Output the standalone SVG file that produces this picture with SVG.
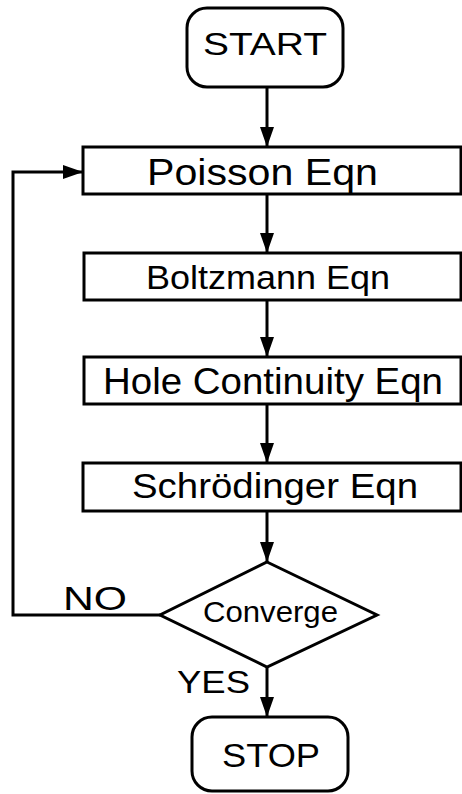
<svg xmlns="http://www.w3.org/2000/svg" width="462" height="794" viewBox="0 0 462 794">
<style>
.box{fill:#fff;stroke:#000;stroke-width:3}
.ln{fill:none;stroke:#000;stroke-width:3}
text{font-family:"Liberation Sans",Arial,sans-serif;fill:#000}
</style>
<defs>
<marker id="ah" markerUnits="userSpaceOnUse" markerWidth="20" markerHeight="14" refX="20" refY="7" orient="auto" viewBox="0 0 20 14">
<path d="M0,0 L20,7 L0,14 z" fill="#000"/>
</marker>
</defs>
<rect width="462" height="794" fill="#fff"/>
<g id="connectors">
<line class="ln" x1="267" y1="87" x2="267" y2="147" marker-end="url(#ah)"/>
<line class="ln" x1="267" y1="194" x2="267" y2="253" marker-end="url(#ah)"/>
<line class="ln" x1="267" y1="300" x2="267" y2="357" marker-end="url(#ah)"/>
<line class="ln" x1="267" y1="404" x2="267" y2="463" marker-end="url(#ah)"/>
<line class="ln" x1="267" y1="511" x2="267" y2="562" marker-end="url(#ah)"/>
<line class="ln" x1="267" y1="667" x2="267" y2="717" marker-end="url(#ah)"/>
<polyline class="ln" points="160,615 13,615 13,172 83,172" stroke-linejoin="miter" marker-end="url(#ah)"/>
<text x="63" y="610" font-size="33" textLength="64" lengthAdjust="spacingAndGlyphs">NO</text>
<text x="177" y="693" font-size="32" textLength="73" lengthAdjust="spacingAndGlyphs">YES</text>
</g>
<g id="start">
<rect class="box" x="187" y="8" width="156" height="79" rx="20"/>
<text x="203" y="55" font-size="32" textLength="124" lengthAdjust="spacingAndGlyphs">START</text>
</g>
<g id="poisson">
<rect class="box" x="83" y="147" width="378" height="47"/>
<text x="147" y="185" font-size="36" textLength="231" lengthAdjust="spacingAndGlyphs">Poisson Eqn</text>
</g>
<g id="boltzmann">
<rect class="box" x="84" y="253" width="377" height="47"/>
<text x="146" y="289" font-size="34" textLength="244" lengthAdjust="spacingAndGlyphs">Boltzmann Eqn</text>
</g>
<g id="hole">
<rect class="box" x="84" y="357" width="377" height="47"/>
<text x="103" y="394" font-size="36" textLength="340" lengthAdjust="spacingAndGlyphs">Hole Continuity Eqn</text>
</g>
<g id="schrodinger">
<rect class="box" x="83" y="463" width="378" height="48"/>
<text x="132" y="498" font-size="35" textLength="286" lengthAdjust="spacingAndGlyphs">Schrödinger Eqn</text>
</g>
<g id="converge">
<polygon class="box" points="267,562 377,615 267,667 160,615"/>
<text x="203" y="622" font-size="30" textLength="135" lengthAdjust="spacingAndGlyphs">Converge</text>
</g>
<g id="stop">
<rect class="box" x="192" y="717" width="156" height="74" rx="20"/>
<text x="222" y="767" font-size="34" textLength="98" lengthAdjust="spacingAndGlyphs">STOP</text>
</g>
</svg>
